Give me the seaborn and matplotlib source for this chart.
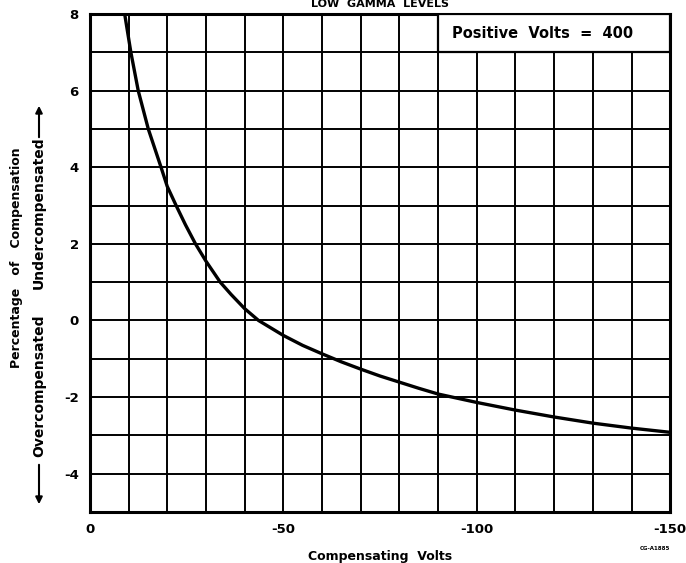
import seaborn as sns
import pandas as pd
import matplotlib.pyplot as plt
from matplotlib.patches import Rectangle
from matplotlib.ticker import MultipleLocator

# curve
comp_volts = [-9.0, -10.6, -12.5, -15.1, -18.4, -20, -22.3, -24.7, -27.3, -30,
              -33.7, -36.5, -40, -43.6, -50, -55, -60, -65, -70, -75, -80, -85,
              -90, -100, -110, -120, -130, -140, -150]
pct_comp = [8, 7, 6, 5, 4, 3.5, 3, 2.5, 2, 1.55,
            1, 0.68, 0.31, 0, -0.39, -0.65, -0.87, -1.08, -1.27, -1.45, -1.61, -1.77,
            -1.92, -2.14, -2.34, -2.52, -2.68, -2.81, -2.92]

x_ticks = [0, -50, -100, -150]
x_labels = ['0', '-50', '-100', '-150']
y_ticks = [-4, -2, 0, 2, 4, 6, 8]

data = pd.DataFrame({'volts': comp_volts, 'pct': pct_comp})

sns.set_style("white")
plt.rcParams['font.family'] = ['DejaVu Sans']
plt.rcParams['font.weight'] = 'bold'
plt.rcParams['text.color'] = 'black'
plt.rcParams['xtick.color'] = 'black'
plt.rcParams['ytick.color'] = 'black'
plt.rcParams['axes.labelcolor'] = 'black'
plt.rcParams['axes.unicode_minus'] = False

fig = plt.figure(figsize=(6.86, 5.63), dpi=100)
ax = fig.add_axes([0.131, 0.0906, 0.846, 0.8844])

sns.lineplot(x='volts', y='pct', data=data, ax=ax, color='black', linewidth=2.4,
             zorder=5, estimator=None)

ax.set_xlim(0, -150)
ax.set_ylim(-5, 8)
ax.set_xticks(x_ticks)
ax.set_xticklabels(x_labels)
ax.set_yticks(y_ticks)
ax.xaxis.set_minor_locator(MultipleLocator(10))
ax.yaxis.set_minor_locator(MultipleLocator(1))
ax.grid(which='both', color='black', linewidth=1.4)
ax.set_axisbelow(True)
ax.tick_params(which='both', length=0, labelsize=9.5, pad=8)
for lbl in ax.get_xticklabels() + ax.get_yticklabels():
    lbl.set_fontweight('bold')
for s in ax.spines.values():
    s.set_color('black')
    s.set_linewidth(2.2)

# label box in the top right cells
ax.add_patch(Rectangle((-90, 7), -60, 1, facecolor='white', edgecolor='black',
                       linewidth=1.6, zorder=4))
ax.text(-117, 7.5, 'Positive  Volts  =  400', ha='center', va='center', fontsize=10.5,
        fontweight='bold', zorder=6)

ax.set_xlabel('Compensating  Volts', fontsize=9, fontweight='bold', labelpad=10)
ax.set_ylabel('')

# two-line y label with arrows
fig.text(17 / 686, 1 - 258 / 563, 'Percentage   of   Compensation', rotation=90,
         ha='center', va='center', fontsize=9, fontweight='bold')
fig.text(39 / 686, 1 - 386 / 563, 'Overcompensated', rotation=90,
         ha='center', va='center', fontsize=10, fontweight='bold')
fig.text(39 / 686, 1 - 213 / 563, 'Undercompensated', rotation=90,
         ha='center', va='center', fontsize=10, fontweight='bold')
ax.annotate('', xy=(39 / 686, 1 - 507 / 563), xytext=(39 / 686, 1 - 462 / 563),
            xycoords='figure fraction',
            arrowprops=dict(arrowstyle='-|>', color='black', lw=1.5))
ax.annotate('', xy=(39 / 686, 1 - 103 / 563), xytext=(39 / 686, 1 - 140 / 563),
            xycoords='figure fraction',
            arrowprops=dict(arrowstyle='-|>', color='black', lw=1.5))

fig.text(380 / 686, 1 - 4 / 563, 'LOW  GAMMA  LEVELS', ha='center', va='center',
         fontsize=8, fontweight='bold')
fig.text(655 / 686, 1 - 548 / 563, 'CG-A1885', ha='center', va='center',
         fontsize=4, fontweight='bold')

fig.savefig('out.png', dpi=100)
